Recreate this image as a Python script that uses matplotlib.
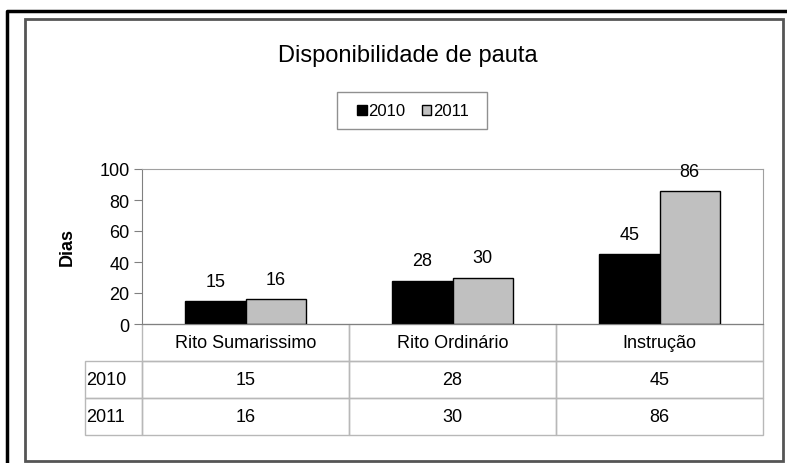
import matplotlib.pyplot as plt
from matplotlib.table import Table
from matplotlib.patches import Rectangle
from matplotlib.lines import Line2D
import numpy as np

plt.rcParams['font.family'] = ['Liberation Sans', 'DejaVu Sans']

# Data
categorias = ['Rito Sumarissimo', 'Rito Ordinário', 'Instrução']
anos = ['2010', '2011']
valores_2010 = [15, 28, 45]
valores_2011 = [16, 30, 86]
titulo = 'Disponibilidade de pauta'
y_ticks = [0, 20, 40, 60, 80, 100]

W, H = 787, 464
fig = plt.figure(figsize=(W / 100, H / 100), dpi=100)

def px(x, y):
    # pixel coords (top-left origin) -> figure fraction
    return x / W, 1 - y / H

# outer frames
fig.add_artist(Line2D([7 / W, 7 / W, 1], [0, 1 - 12 / H, 1 - 12 / H],
                      transform=fig.transFigure, color='black', lw=2.5))
fig.add_artist(Rectangle(px(25, 462), (783 - 25) / W, (462 - 20) / H,
                         transform=fig.transFigure, fill=False,
                         edgecolor='#555555', lw=2))

# plot area
x0, x1, yt, yb = 142, 763, 170, 325
ax = fig.add_axes([x0 / W, 1 - yb / H, (x1 - x0) / W, (yb - yt) / H])

x = np.arange(len(categorias))
w = 0.29
b1 = ax.bar(x - w / 2, valores_2010, w, color='black', edgecolor='black',
            linewidth=1, label=anos[0])
b2 = ax.bar(x + w / 2, valores_2011, w, color='#C0C0C0', edgecolor='black',
            linewidth=1, label=anos[1])

for bars, vals in ((b1, valores_2010), (b2, valores_2011)):
    for r, v in zip(bars, vals):
        ax.annotate(str(v), (r.get_x() + r.get_width() / 2, v),
                    xytext=(0, 8), textcoords='offset points',
                    ha='center', va='bottom', fontsize=13)

ax.set_xlim(-0.5, len(categorias) - 0.5)
ax.set_ylim(0, 100)
ax.set_yticks(y_ticks)
ax.set_xticks([])
ax.tick_params(axis='y', labelsize=13, length=6, color='#808080', pad=3)
for s in ax.spines.values():
    s.set_color('#A0A0A0')
ax.spines['left'].set_color('#808080')
ax.spines['bottom'].set_color('#808080')
ax.set_ylabel('Dias', fontsize=13, fontweight='bold', labelpad=17)

# data table under the plot
row_h = (436 - yb) / (yb - yt)
lab_w = (x1 - 85) / (x1 - x0) - 1
table = Table(ax, bbox=[-lab_w, -row_h, 1 + lab_w, row_h])
table.auto_set_font_size(False)
cw_lab = 57
cw = 207
edge = '#B8B8B8'

table.add_cell(0, 0, cw_lab, 1, text='', edgecolor='none', facecolor='none')
for j, c in enumerate(categorias):
    table.add_cell(0, j + 1, cw, 1, text=c, loc='center',
                   edgecolor=edge, facecolor='none')
for i, (ano, vals) in enumerate(zip(anos, [valores_2010, valores_2011])):
    table.add_cell(i + 1, 0, cw_lab, 1, text=ano, loc='left',
                   edgecolor=edge, facecolor='none')
    for j, v in enumerate(vals):
        table.add_cell(i + 1, j + 1, cw, 1, text=str(v), loc='center',
                       edgecolor=edge, facecolor='none')
for cell in table.get_celld().values():
    cell.get_text().set_fontsize(13)
    cell.PAD = 0.02
ax.add_table(table)
table.set_clip_on(False)

# title and legend
fig.text(*px(408, 56), titulo, ha='center', va='center', fontsize=17)
fig.add_artist(Rectangle(px(337, 130), 150 / W, 37 / H,
                         transform=fig.transFigure, facecolor='white',
                         edgecolor='#909090', lw=1))
leg = fig.legend(handles=[b1, b2], labels=anos, loc='center',
                 bbox_to_anchor=px(413, 112), ncol=2, fontsize=12,
                 handlelength=0.55, handleheight=0.55, handletextpad=0.1,
                 columnspacing=1.0, frameon=False)

fig.savefig('out.png', dpi=100)
